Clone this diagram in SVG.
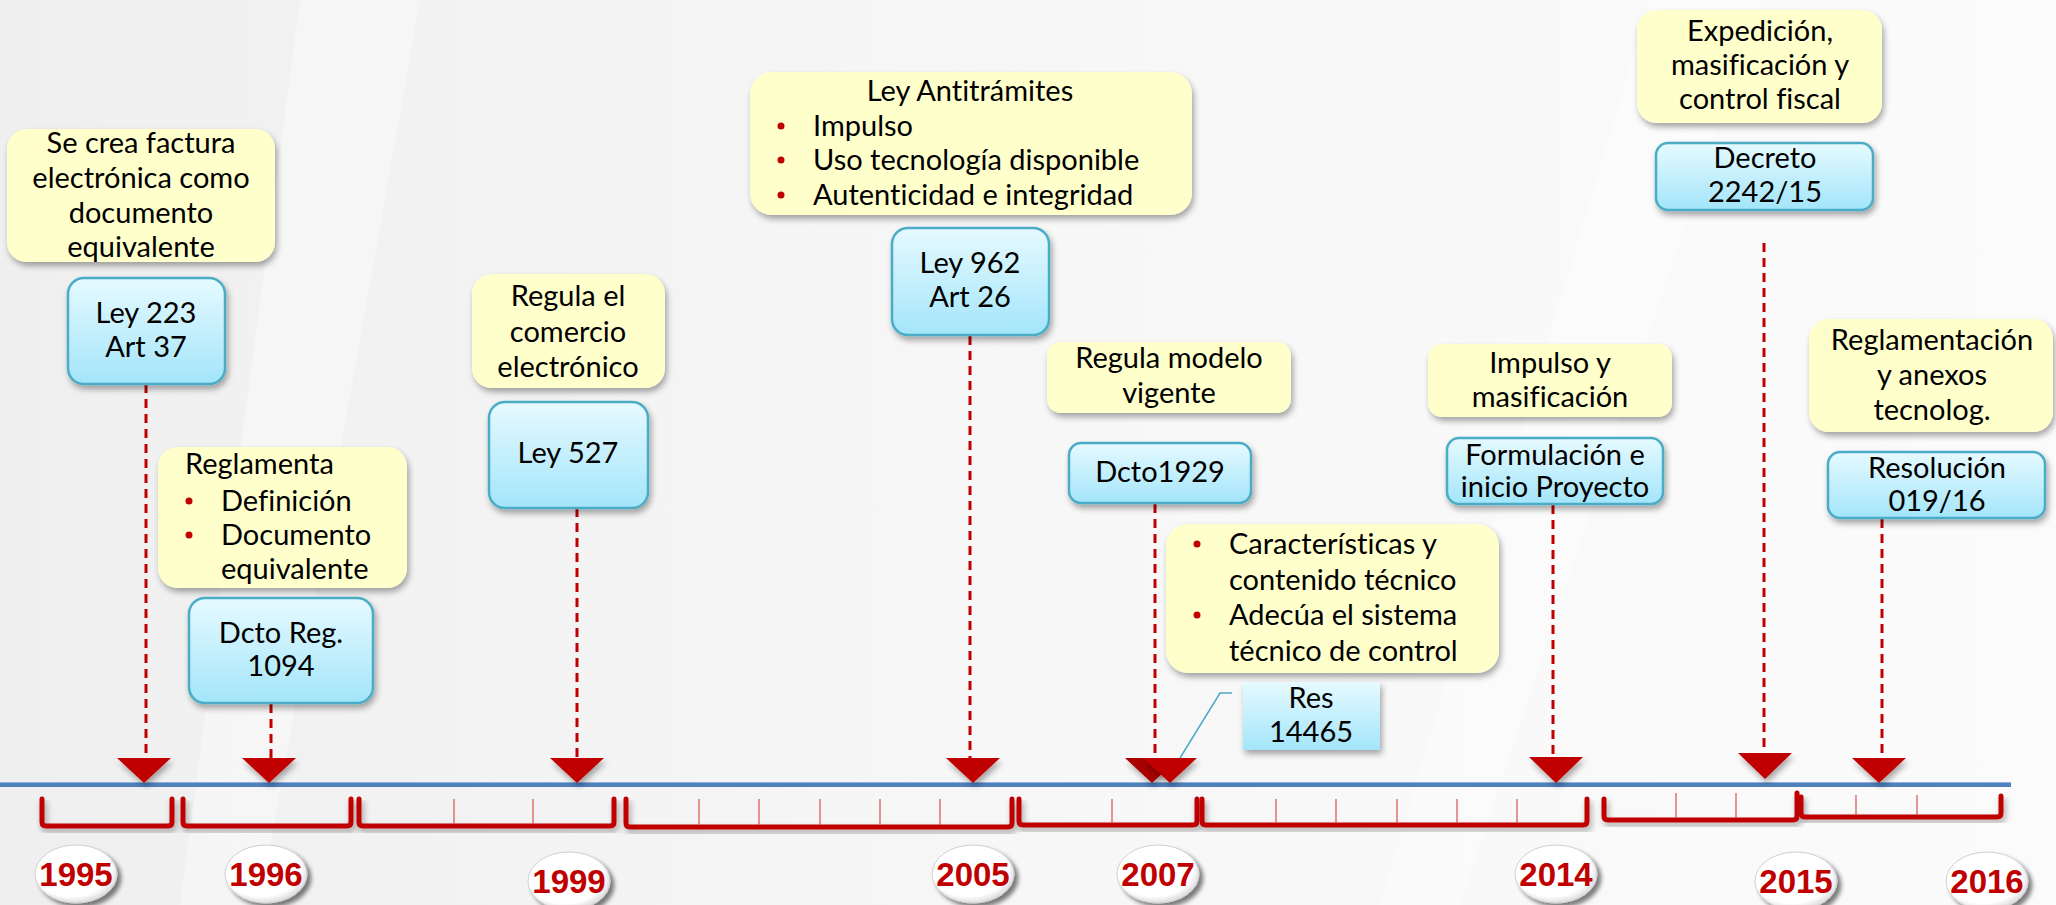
<svg xmlns="http://www.w3.org/2000/svg" width="2056" height="905" viewBox="0 0 2056 905">
<defs>
<linearGradient id="bg" x1="0" y1="0" x2="1" y2="0">
<stop offset="0" stop-color="#EFEFEF"/><stop offset="0.5" stop-color="#F7F7F7"/><stop offset="1" stop-color="#FBFBFB"/>
</linearGradient>
<linearGradient id="blue" x1="0" y1="0" x2="0" y2="1">
<stop offset="0" stop-color="#E6FAFF"/><stop offset="1" stop-color="#A3E5FA"/>
</linearGradient>
<radialGradient id="yr" cx="0.45" cy="0.42" r="0.6">
<stop offset="0" stop-color="#FFFFFF"/><stop offset="0.78" stop-color="#FFFFFF"/><stop offset="1" stop-color="#D8D8D8"/>
</radialGradient>
<filter id="sh" x="-10%" y="-10%" width="125%" height="135%">
<feGaussianBlur in="SourceAlpha" stdDeviation="3"/>
<feOffset dx="2" dy="4" result="b"/>
<feComponentTransfer><feFuncA type="linear" slope="0.35"/></feComponentTransfer>
<feMerge><feMergeNode/><feMergeNode in="SourceGraphic"/></feMerge>
</filter>
<filter id="ysh" x="-20%" y="-20%" width="150%" height="150%">
<feGaussianBlur in="SourceAlpha" stdDeviation="2"/>
<feOffset dx="4" dy="4" result="b"/>
<feComponentTransfer><feFuncA type="linear" slope="0.5"/></feComponentTransfer>
<feMerge><feMergeNode/><feMergeNode in="SourceGraphic"/></feMerge>
</filter>
<style>
.y{fill:#FFFFCC;filter:url(#sh)}
.b{fill:url(#blue);stroke:#4BACC6;stroke-width:2.5;filter:url(#sh)}
.t{font-family:Lato,"Liberation Sans",sans-serif;font-size:29px;fill:#000;font-variant-ligatures:none}
.c{text-anchor:middle}
.bu{fill:#C00000}
.dash{stroke:#C00000;stroke-width:3;stroke-dasharray:9 6;fill:none}
.tri{fill:#C00000;filter:url(#sh)}
.br{fill:none;stroke:#C00000;stroke-width:5;stroke-linejoin:round;stroke-linecap:round;filter:url(#sh)}
.tk{stroke:#D85050;stroke-width:1.2}
.yrt{font-family:"Liberation Sans",Arial,sans-serif;font-weight:bold;font-size:33px;fill:#C00000;text-anchor:middle}
.ye{fill:url(#yr);stroke:#D0D0D0;stroke-width:1;filter:url(#ysh)}
</style>
</defs>
<rect width="2056" height="905" fill="url(#bg)"/>
<polygon points="300,0 420,0 260,905 180,905" fill="#FFFFFF" opacity="0.35"/>
<polygon points="1650,0 1760,0 1460,905 1380,905" fill="#FFFFFF" opacity="0.35"/>

<g id="connectors">
<line class="dash" x1="146" y1="384" x2="146" y2="758"/>
<line class="dash" x1="271" y1="704" x2="271" y2="758"/>
<line class="dash" x1="577" y1="508" x2="577" y2="758"/>
<line class="dash" x1="970" y1="336" x2="970" y2="758"/>
<line class="dash" x1="1155" y1="504" x2="1155" y2="758"/>
<line class="dash" x1="1553" y1="505" x2="1553" y2="757"/>
<line class="dash" x1="1764" y1="243" x2="1764" y2="753"/>
<line class="dash" x1="1882" y1="519" x2="1882" y2="758"/>
<polyline points="1180,758 1220,693 1232,693" fill="none" stroke="#4BACC6" stroke-width="1.5"/>
</g>

<g id="axis">
<line x1="0" y1="784.5" x2="2011" y2="784.5" stroke="#4F81BD" stroke-width="5"/>
<line x1="0" y1="782.5" x2="2011" y2="782.5" stroke="#8FB0DA" stroke-width="1"/>
</g>

<g id="arrows">
<polygon class="tri" points="117,758 171,758 144,783"/>
<polygon class="tri" points="242,758 296,758 269,783"/>
<polygon class="tri" points="550,758 604,758 577,783"/>
<polygon class="tri" points="946,758 1000,758 973,783"/>
<polygon class="tri" points="1125,758 1179,758 1152,783" style="fill:#A80000"/>
<polygon class="tri" points="1143,758 1197,758 1170,783"/>
<polygon class="tri" points="1529,757 1583,757 1556,783"/>
<polygon class="tri" points="1738,753 1792,753 1765,779"/>
<polygon class="tri" points="1852,758 1906,758 1879,783"/>
</g>

<g id="brackets">
<path class="br" d="M42,799 L42,822 Q42,826 46,826 L168,826 Q172,826 172,822 L172,799"/>
<path class="br" d="M183,799 L183,822 Q183,826 187,826 L347,826 Q351,826 351,822 L351,799"/>
<path class="br" d="M359,799 L359,822 Q359,826 363,826 L610,826 Q614,826 614,822 L614,799"/>
<path class="br" d="M626,799 L626,823 Q626,827 630,827 L1008,827 Q1012,827 1012,823 L1012,799"/>
<path class="br" d="M1019,799 L1019,821 Q1019,825 1023,825 L1193,825 Q1197,825 1197,821 L1197,799"/>
<path class="br" d="M1202,799 L1202,821 Q1202,825 1206,825 L1583,825 Q1587,825 1587,821 L1587,799"/>
<path class="br" d="M1604,799 L1604,816 Q1604,820 1608,820 L1793,820 Q1797,820 1797,816 L1797,793"/>
<path class="br" d="M1801,797 L1801,813 Q1801,817 1805,817 L1997,817 Q2001,817 2001,813 L2001,796"/>
<line class="tk" x1="454" y1="799" x2="454" y2="824"/>
<line class="tk" x1="533" y1="799" x2="533" y2="824"/>
<line class="tk" x1="699" y1="799" x2="699" y2="825"/>
<line class="tk" x1="759" y1="799" x2="759" y2="825"/>
<line class="tk" x1="820" y1="799" x2="820" y2="825"/>
<line class="tk" x1="880" y1="799" x2="880" y2="825"/>
<line class="tk" x1="940" y1="799" x2="940" y2="825"/>
<line class="tk" x1="1112" y1="799" x2="1112" y2="823"/>
<line class="tk" x1="1276" y1="799" x2="1276" y2="823"/>
<line class="tk" x1="1336" y1="799" x2="1336" y2="823"/>
<line class="tk" x1="1397" y1="799" x2="1397" y2="823"/>
<line class="tk" x1="1457" y1="799" x2="1457" y2="823"/>
<line class="tk" x1="1517" y1="799" x2="1517" y2="823"/>
<line class="tk" x1="1676" y1="793" x2="1676" y2="818"/>
<line class="tk" x1="1736" y1="793" x2="1736" y2="818"/>
<line class="tk" x1="1856" y1="795" x2="1856" y2="815"/>
<line class="tk" x1="1917" y1="795" x2="1917" y2="815"/>
</g>

<g id="years">
<g id="y1995"><ellipse class="ye" cx="76" cy="874" rx="41" ry="29"/><text class="yrt" x="76" y="886">1995</text></g>
<g id="y1996"><ellipse class="ye" cx="266" cy="874" rx="41" ry="29"/><text class="yrt" x="266" y="886">1996</text></g>
<g id="y1999"><ellipse class="ye" cx="569" cy="881" rx="41" ry="29"/><text class="yrt" x="569" y="893">1999</text></g>
<g id="y2005"><ellipse class="ye" cx="973" cy="874" rx="41" ry="29"/><text class="yrt" x="973" y="886">2005</text></g>
<g id="y2007"><ellipse class="ye" cx="1158" cy="874" rx="41" ry="29"/><text class="yrt" x="1158" y="886">2007</text></g>
<g id="y2014"><ellipse class="ye" cx="1556" cy="874" rx="41" ry="29"/><text class="yrt" x="1556" y="886">2014</text></g>
<g id="y2015"><ellipse class="ye" cx="1796" cy="881" rx="41" ry="29"/><text class="yrt" x="1796" y="893">2015</text></g>
<g id="y2016"><ellipse class="ye" cx="1987" cy="881" rx="41" ry="29"/><text class="yrt" x="1987" y="893">2016</text></g>
</g>

<g id="n1a"><rect class="y" x="7" y="129" width="268" height="133" rx="20"/>
<text class="t c" x="141" y="153">Se crea factura</text>
<text class="t c" x="141" y="188">electrónica como</text>
<text class="t c" x="141" y="223">documento</text>
<text class="t c" x="141" y="257">equivalente</text></g>
<g id="n1b"><rect class="b" x="68" y="278" width="157" height="106" rx="16"/>
<text class="t c" x="146" y="323">Ley 223</text>
<text class="t c" x="146" y="357">Art 37</text></g>

<g id="n2a"><rect class="y" x="158" y="447" width="249" height="141" rx="20"/>
<text class="t" x="185" y="474">Reglamenta</text>
<circle class="bu" cx="189" cy="501" r="3.5"/><text class="t" x="221" y="511">Definición</text>
<circle class="bu" cx="189" cy="535" r="3.5"/><text class="t" x="221" y="545">Documento</text>
<text class="t" x="221" y="579">equivalente</text></g>
<g id="n2b"><rect class="b" x="189" y="598" width="184" height="105" rx="16"/>
<text class="t c" x="281" y="643">Dcto Reg.</text>
<text class="t c" x="281" y="676">1094</text></g>

<g id="n3a"><rect class="y" x="472" y="274" width="193" height="114" rx="20"/>
<text class="t c" x="568" y="306">Regula el</text>
<text class="t c" x="568" y="342">comercio</text>
<text class="t c" x="568" y="377">electrónico</text></g>
<g id="n3b"><rect class="b" x="489" y="402" width="159" height="106" rx="16"/>
<text class="t c" x="568" y="463">Ley 527</text></g>

<g id="n4a"><rect class="y" x="750" y="72" width="442" height="143" rx="22"/>
<text class="t c" x="970" y="101">Ley Antitrámites</text>
<circle class="bu" cx="781" cy="126" r="3.5"/><text class="t" x="813" y="136">Impulso</text>
<circle class="bu" cx="781" cy="160" r="3.5"/><text class="t" x="813" y="170">Uso tecnología disponible</text>
<circle class="bu" cx="781" cy="195" r="3.5"/><text class="t" x="813" y="205">Autenticidad e integridad</text></g>
<g id="n4b"><rect class="b" x="892" y="228" width="157" height="107" rx="16"/>
<text class="t c" x="970" y="273">Ley 962</text>
<text class="t c" x="970" y="307">Art 26</text></g>

<g id="n5a"><rect class="y" x="1047" y="342" width="244" height="71" rx="14"/>
<text class="t c" x="1169" y="368">Regula modelo</text>
<text class="t c" x="1169" y="403">vigente</text></g>
<g id="n5b"><rect class="b" x="1069" y="443" width="182" height="60" rx="12"/>
<text class="t c" x="1160" y="482">Dcto1929</text></g>

<g id="n6a"><rect class="y" x="1166" y="524" width="333" height="149" rx="22"/>
<circle class="bu" cx="1197" cy="544" r="3.5"/><text class="t" x="1229" y="554">Características y</text>
<text class="t" x="1229" y="590">contenido técnico</text>
<circle class="bu" cx="1197" cy="615" r="3.5"/><text class="t" x="1229" y="625">Adecúa el sistema</text>
<text class="t" x="1229" y="661">técnico de control</text></g>
<g id="n6b"><rect x="1243" y="682" width="137" height="68" fill="url(#blue)" filter="url(#sh)"/>
<text class="t c" x="1311" y="708">Res</text>
<text class="t c" x="1311" y="742">14465</text></g>

<g id="n7a"><rect class="y" x="1428" y="344" width="244" height="73" rx="14"/>
<text class="t c" x="1550" y="373">Impulso y</text>
<text class="t c" x="1550" y="407">masificación</text></g>
<g id="n7b"><rect class="b" x="1447" y="438" width="216" height="66" rx="12"/>
<text class="t c" x="1555" y="465">Formulación e</text>
<text class="t c" x="1555" y="497">inicio Proyecto</text></g>

<g id="n8a"><rect class="y" x="1637" y="10" width="245" height="113" rx="20"/>
<text class="t c" x="1760" y="41">Expedición,</text>
<text class="t c" x="1760" y="75">masificación y</text>
<text class="t c" x="1760" y="109">control fiscal</text></g>
<g id="n8b"><rect class="b" x="1656" y="143" width="217" height="67" rx="12"/>
<text class="t c" x="1765" y="168">Decreto</text>
<text class="t c" x="1765" y="202">2242/15</text></g>

<g id="n9a"><rect class="y" x="1809" y="319" width="244" height="113" rx="20"/>
<text class="t c" x="1932" y="350">Reglamentación</text>
<text class="t c" x="1932" y="385">y anexos</text>
<text class="t c" x="1932" y="420">tecnolog.</text></g>
<g id="n9b"><rect class="b" x="1828" y="452" width="217" height="66" rx="12"/>
<text class="t c" x="1937" y="478">Resolución</text>
<text class="t c" x="1937" y="511">019/16</text></g>
</svg>
